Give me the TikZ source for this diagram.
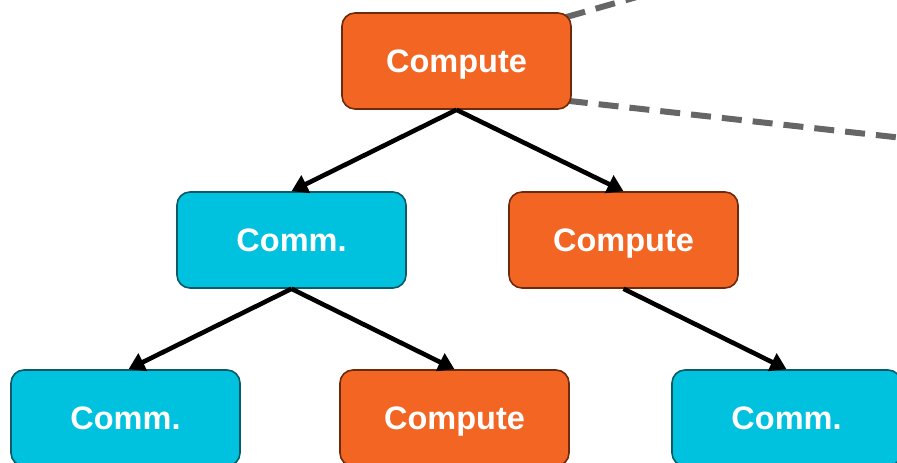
\documentclass[tikz,border=0pt]{standalone}
\usepackage{fontspec}
\setmainfont{Liberation Sans}
\usetikzlibrary{arrows.meta,backgrounds}
\definecolor{computeorange}{HTML}{F36523}
\definecolor{computeedge}{HTML}{6E2A0C}
\definecolor{commcyan}{HTML}{00C2DE}
\definecolor{commedge}{HTML}{0B5A68}
\definecolor{linkgray}{HTML}{666666}
\tikzset{
  task/.style={rounded corners=13pt, line width=1.6pt, minimum width=229pt,
    minimum height=96pt, inner sep=0pt, text height=23pt, text depth=0pt,
    text=white, font=\fontsize{32.5}{36}\selectfont\bfseries},
  compute/.style={task, fill=computeorange, draw=computeedge},
  comm/.style={task, fill=commcyan, draw=commedge},
  dep/.style={-{Triangle[length=16pt,width=19pt]}, line width=4.6pt, black},
  link/.style={linkgray, line width=6pt, dash pattern=on 20pt off 11pt}
}
\begin{document}
\begin{tikzpicture}[x=1pt,y=-1pt]
  \clip (0,0) rectangle (897,463);
  % tree of tasks
  \node[compute] (root) at (456.5,61) {Compute};
  \node[comm] (commA) at (291.5,240) {Comm.};
  \node[compute] (compA) at (623.5,240) {Compute};
  \node[comm] (commB) at (125.5,418) {Comm.};
  \node[compute] (compB) at (454.5,418) {Compute};
  \node[comm] (commC) at (786.5,418) {Comm.};
  % dependencies
  \draw[dep] (root.south) -- (commA.north);
  \draw[dep] (root.south) -- (compA.north);
  \draw[dep] (commA.south) -- ([xshift=3pt]commB.north);
  \draw[dep] (commA.south) -- (compB.north);
  \draw[dep] (compA.south) -- (commC.north);
  % links to the rest of the graph
  \coordinate (outA) at (700,-21);
  \coordinate (outB) at (930,141);
  \begin{scope}[on background layer]
    \draw[link] ([xshift=-6pt,yshift=-5pt]root.north east) -- (outA);
    \draw[link] ([xshift=-4pt,yshift=9pt]root.south east) -- (outB);
  \end{scope}
\end{tikzpicture}
\end{document}
